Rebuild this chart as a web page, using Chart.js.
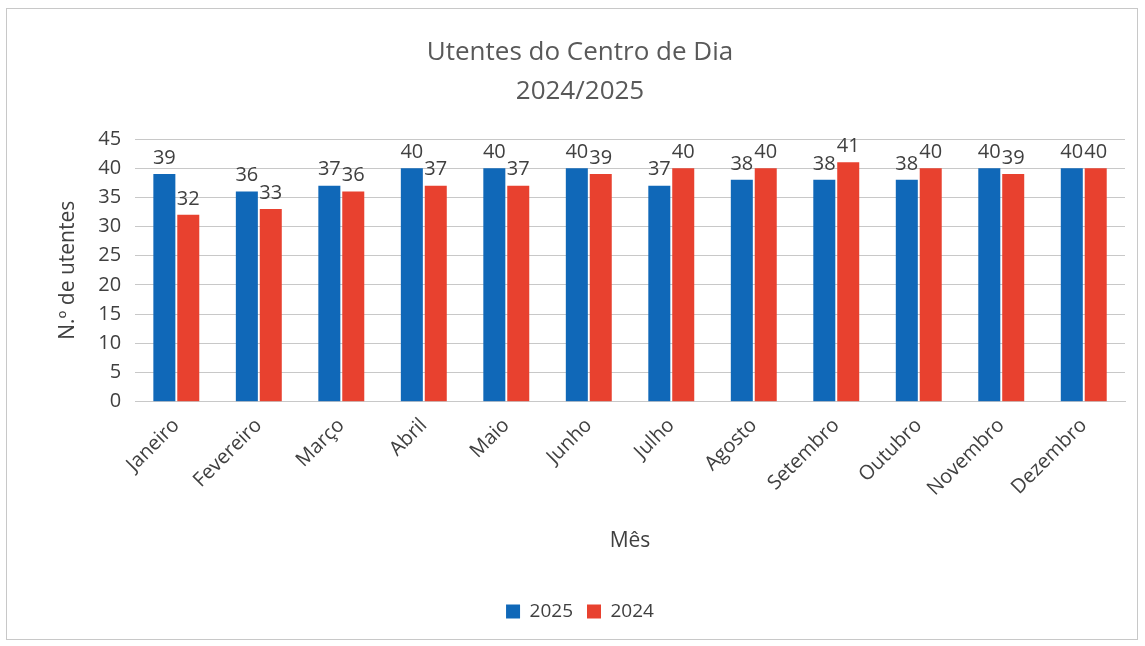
<!DOCTYPE html>
<html>
<head>
<meta charset="utf-8">
<script src="https://cdn.jsdelivr.net/npm/chart.js@4.4.0/dist/chart.umd.min.js"></script>
<style>
  html, body { margin: 0; padding: 0; background: #fff; }
  #wrap { position: absolute; left: 6px; top: 8px; width: 1132px; height: 632px; border: 1px solid #c8c8c8; box-sizing: border-box; }
  canvas { display: block; }
</style>
</head>
<body>
<div id="wrap"><canvas id="chart"></canvas></div>
<script>
// Chart data
const months = ["Janeiro", "Fevereiro", "Março", "Abril", "Maio", "Junho",
                "Julho", "Agosto", "Setembro", "Outubro", "Novembro", "Dezembro"];
const values2025 = [39, 36, 37, 40, 40, 40, 37, 38, 38, 38, 40, 40];
const values2024 = [32, 33, 36, 37, 37, 39, 40, 40, 41, 40, 39, 40];
const yTicks = [0, 5, 10, 15, 20, 25, 30, 35, 40, 45];

const COLORS = {
  blue:  "#1068B8",
  red:   "#E8412F",
  text:  "#404040",
  title: "#595959",
  grid:  "#c8c8c8",
};

Chart.defaults.font.family = "'Open Sans', 'Noto Sans', sans-serif";
Chart.defaults.color = COLORS.text;

// simple value labels above each bar
const barLabels = {
  id: "barLabels",
  afterDatasetsDraw(chart) {
    const ctx = chart.ctx;
    ctx.save();
    ctx.font = "20px 'Open Sans', sans-serif";
    ctx.fillStyle = COLORS.text;
    ctx.textAlign = "center";
    ctx.textBaseline = "bottom";
    chart.data.datasets.forEach((ds, i) => {
      chart.getDatasetMeta(i).data.forEach((bar, j) => {
        ctx.fillText(ds.data[j], bar.x, bar.y - 6);
      });
    });
    ctx.restore();
  },
};

new Chart(document.getElementById("chart"), {
  type: "bar",
  data: {
    labels: months,
    datasets: [
      { label: "2025", data: values2025, backgroundColor: COLORS.blue },
      { label: "2024", data: values2024, backgroundColor: COLORS.red },
    ],
  },
  options: {
    responsive: true,
    maintainAspectRatio: false,
    animation: false,
    datasets: { bar: { categoryPercentage: 0.58, barPercentage: 0.92 } },
    layout: { padding: { left: 28, right: 12, top: 14, bottom: 8 } },
    plugins: {
      title: {
        display: true,
        text: ["Utentes do Centro de Dia", "2024/2025"],
        color: COLORS.title,
        font: { size: 26, weight: "normal", lineHeight: 1.5 },
        padding: { top: 10, bottom: 28 },
      },
      legend: {
        position: "bottom",
        labels: {
          boxWidth: 14, boxHeight: 14, padding: 14,
          font: { size: 19 }, color: COLORS.text,
        },
      },
      tooltip: { enabled: false },
    },
    scales: {
      x: {
        grid: { display: false },
        border: { color: COLORS.grid },
        ticks: { maxRotation: 45, minRotation: 45, font: { size: 20 }, color: COLORS.text, padding: 4 },
        title: { display: true, text: "Mês", font: { size: 21 }, color: COLORS.text, padding: { top: 24, bottom: 34 } },
      },
      y: {
        min: 0,
        max: 45,
        afterBuildTicks: (axis) => { axis.ticks = yTicks.map((v) => ({ value: v })); },
        grid: { color: COLORS.grid, drawTicks: false },
        border: { display: false },
        ticks: { font: { size: 20 }, color: COLORS.text, padding: 14 },
        title: { display: true, text: "N.º de utentes", font: { size: 21 }, color: COLORS.text, padding: { top: 20, bottom: 4 } },
      },
    },
  },
  plugins: [barLabels],
});
</script>
</body>
</html>
